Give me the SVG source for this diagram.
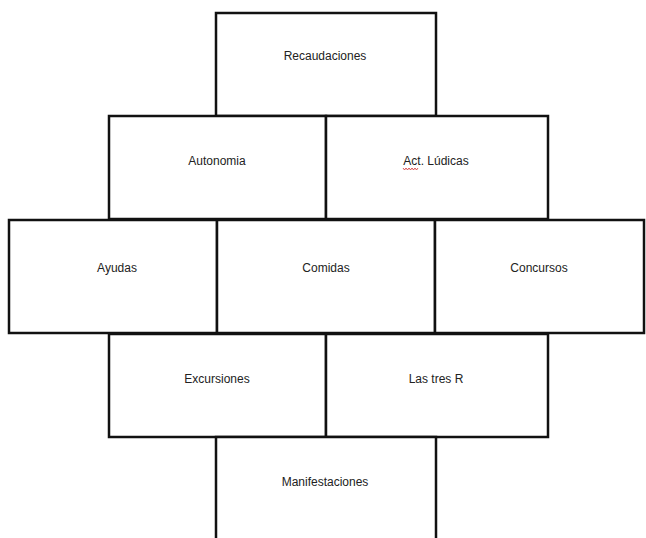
<svg xmlns="http://www.w3.org/2000/svg" width="646" height="538" viewBox="0 0 646 538">
  <style>
    .box { fill: #ffffff; stroke: #111111; stroke-width: 2.5; }
    .lbl { font-family: "Liberation Sans", Arial, sans-serif; font-size: 12px; fill: #222222; text-anchor: middle; }
    .squiggle { fill: none; stroke: #d03030; stroke-width: 0.8; }
  </style>
  <rect width="646" height="538" fill="#ffffff"/>

  <!-- row 1 -->
  <g id="recaudaciones">
    <rect class="box" x="216" y="13" width="220" height="103"/>
    <text class="lbl" x="325" y="60">Recaudaciones</text>
  </g>

  <!-- row 2 -->
  <g id="autonomia">
    <rect class="box" x="109" y="116" width="217" height="103"/>
    <text class="lbl" x="217" y="165">Autonomia</text>
  </g>
  <g id="act-ludicas">
    <rect class="box" x="326" y="116" width="222" height="103"/>
    <text class="lbl" x="436" y="165">Act. Lúdicas</text>
    <path class="squiggle" d="M403,168 l1.5,2 l1.5,-2 l1.5,2 l1.5,-2 l1.5,2 l1.5,-2 l1.5,2 l1.5,-2 l1.5,2 l1.5,-2"/>
  </g>

  <!-- row 3 -->
  <g id="ayudas">
    <rect class="box" x="9" y="220" width="208" height="113"/>
    <text class="lbl" x="117" y="272">Ayudas</text>
  </g>
  <g id="comidas">
    <rect class="box" x="217" y="220" width="218" height="113"/>
    <text class="lbl" x="326" y="272">Comidas</text>
  </g>
  <g id="concursos">
    <rect class="box" x="435" y="220" width="209" height="113"/>
    <text class="lbl" x="539" y="272">Concursos</text>
  </g>

  <!-- row 4 -->
  <g id="excursiones">
    <rect class="box" x="109" y="334" width="217" height="103"/>
    <text class="lbl" x="217" y="383">Excursiones</text>
  </g>
  <g id="las-tres-r">
    <rect class="box" x="326" y="334" width="222" height="103"/>
    <text class="lbl" x="436" y="383">Las tres R</text>
  </g>

  <!-- row 5, runs off the bottom edge -->
  <g id="manifestaciones">
    <rect class="box" x="216" y="437" width="220" height="120"/>
    <text class="lbl" x="325" y="486">Manifestaciones</text>
  </g>

  <g id="connectors"></g>
</svg>
